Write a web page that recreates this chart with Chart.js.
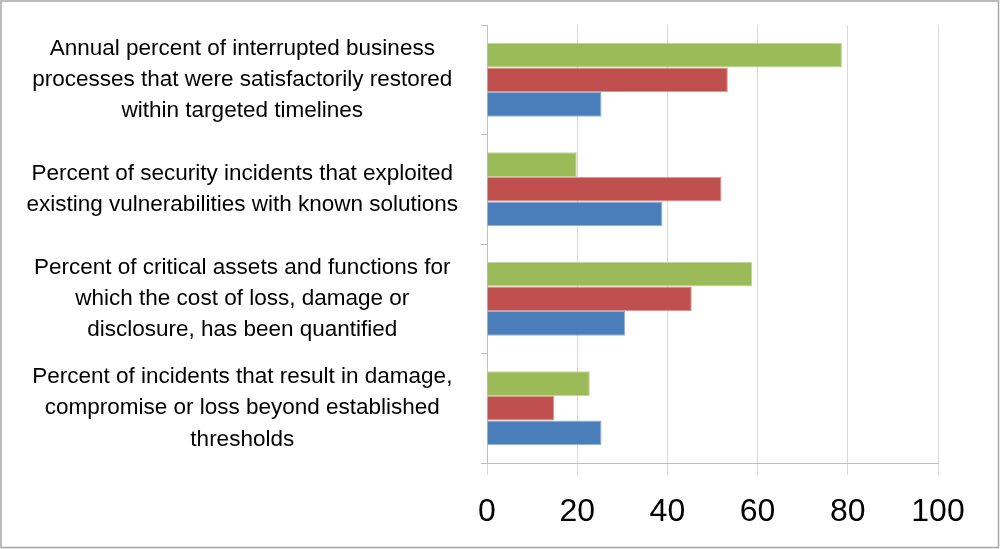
<!DOCTYPE html>
<html>
<head>
<meta charset="utf-8">
<script src="https://cdn.jsdelivr.net/npm/chart.js@4/dist/chart.umd.min.js"></script>
<style>
  html, body { margin: 0; padding: 0; background: #fff; }
  #wrap { width: 1000px; height: 549px; position: relative; }
</style>
</head>
<body>
<div id="wrap"><canvas id="bars"></canvas></div>
<script>
// categories, top to bottom
var categories = [
    ["Annual percent of interrupted business", "processes that were satisfactorily restored", "within targeted timelines"],
    ["Percent of security incidents that exploited", "existing vulnerabilities with known solutions"],
    ["Percent of critical assets and functions for", "which the cost of loss, damage or", "disclosure, has been quantified"],
    ["Percent of incidents that result in damage,", "compromise or loss beyond established", "thresholds"]
];

// series values (green drawn on top of each group, blue at bottom)
var greenValues = [78.7, 19.9, 58.8, 22.8];
var redValues = [53.4, 52.0, 45.4, 14.9];
var blueValues = [25.4, 38.9, 30.6, 25.4];

var xTicks = [0, 20, 40, 60, 80, 100];

// frame round the whole picture
var framePlugin = {
    id: 'frame',
    beforeDraw: function(chart) {
        var c = chart.ctx;
        c.save();
        c.fillStyle = '#ffffff';
        c.fillRect(0, 0, chart.width, chart.height);
        c.restore();
    },
    afterDraw: function(chart) {
        var c = chart.ctx;
        c.save();
        c.strokeStyle = '#a6a6a6';
        c.lineWidth = 1.5;
        c.strokeRect(1, 1, chart.width - 2.5, chart.height - 2.5);
        c.restore();
    }
};

var ctx = document.getElementById('bars');

var graph = new Chart(ctx, {
    type: 'bar',
    data: {
        labels: categories,
        datasets: [{
            label: "Series 3",
            data: greenValues,
            backgroundColor: '#9bbb59',
            borderColor: '#c3d69b',
            borderWidth: 1
        },
        {
            label: "Series 2",
            data: redValues,
            backgroundColor: '#c0504d',
            borderColor: '#d99694',
            borderWidth: 1
        },
        {
            label: "Series 1",
            data: blueValues,
            backgroundColor: '#4a7ebb',
            borderColor: '#95b3d7',
            borderWidth: 1
        }]
    },
    options: {
        indexAxis: 'y',
        responsive: true,
        maintainAspectRatio: false,
        animation: false,
        categoryPercentage: 0.675,
        barPercentage: 1.0,
        layout: { padding: { top: 25, right: 62, bottom: 18, left: 10 } },
        plugins: {
            legend: { display: false },
            tooltip: { enabled: false }
        },
        scales: {
            x: {
                min: 0,
                max: 100,
                afterBuildTicks: function(scale) {
                    scale.ticks = xTicks.map(function(v) { return { value: v }; });
                },
                afterFit: function(scale) {
                    scale.height = 68;
                    scale.paddingBottom = 0;
                },
                grid: { color: '#d9d9d9', tickColor: '#d9d9d9', tickLength: 12, lineWidth: 1 },
                border: { color: '#bfbfbf' },
                ticks: {
                    color: '#000',
                    padding: 18,
                    maxRotation: 0,
                    font: { family: '"Liberation Sans", Arial, sans-serif', size: 32 }
                }
            },
            y: {
                grid: { drawOnChartArea: false, drawTicks: true, tickLength: 6, tickColor: '#bfbfbf' },
                border: { color: '#bfbfbf' },
                afterFit: function(scale) {
                    scale.width = 477;
                    scale.paddingTop = 0;
                    scale.paddingBottom = 0;
                },
                ticks: {
                    color: '#000',
                    padding: 23,
                    crossAlign: 'center',
                    autoSkip: false,
                    font: { family: '"Liberation Sans", Arial, sans-serif', size: 22.5, lineHeight: 1.38 }
                }
            }
        }
    },
    plugins: [framePlugin]
});
</script>
</body>
</html>
